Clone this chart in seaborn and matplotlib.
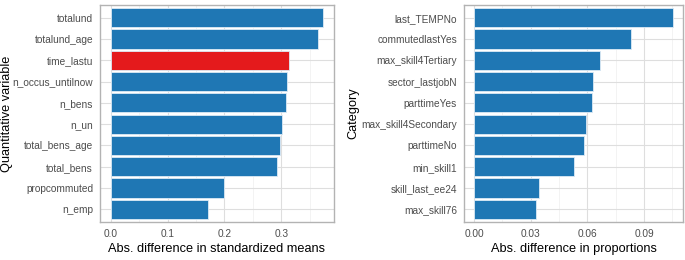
import matplotlib
matplotlib.use("Agg")
import matplotlib.pyplot as plt
import seaborn as sns
import numpy as np
import pandas as pd
from matplotlib.ticker import FixedLocator, FormatStrFormatter

# Data
quant_vars = ["totalund", "totalund_age", "time_lastu", "n_occus_untilnow", "n_bens",
              "n_un", "total_bens_age", "total_bens", "propcommuted", "n_emp"]
quant_vals = [0.374, 0.365, 0.314, 0.310, 0.308, 0.301, 0.298, 0.292, 0.200, 0.172]
highlight = "time_lastu"

cat_vars = ["last_TEMPNo", "commutedlastYes", "max_skill4Tertiary", "sector_lastjobN",
            "parttimeYes", "max_skill4Secondary", "parttimeNo", "min_skill1",
            "skill_last_ee24", "max_skill76"]
cat_vals = [0.1054, 0.0831, 0.0665, 0.0628, 0.0627, 0.0593, 0.0580, 0.0527, 0.0342, 0.0331]

left_ticks = [0.0, 0.1, 0.2, 0.3]
right_ticks = [0.00, 0.03, 0.06, 0.09]

BLUE = "#1F77B4"
RED = "#E41A1C"

sns.set_theme(style="white")
plt.rcParams["font.family"] = ["Liberation Sans", "DejaVu Sans"]

fig = plt.figure(figsize=(6.85, 2.6), dpi=100)
ax1 = fig.add_axes([100/685, 38/260, 234/685, 217/260])
ax2 = fig.add_axes([464/685, 38/260, 219/685, 217/260])


def style(ax, names, vals, colors, ticks, fmt, xlabel, ylabel, ylab_x):
    df = pd.DataFrame({"var": names, "val": vals})
    pal = dict(zip(names, colors))
    sns.barplot(data=df, x="val", y="var", hue="var", palette=pal, legend=False,
                order=names, width=0.9, ax=ax, edgecolor="#DCEAF5", linewidth=0.6,
                saturation=1, zorder=3)
    m = max(vals)
    ax.set_xlim(-0.05 * m, 1.05 * m)
    ax.set_ylim(len(names) - 1 + 0.6, -0.6)
    ax.xaxis.set_major_locator(FixedLocator(ticks))
    step = ticks[1] - ticks[0]
    minors = [t + step / 2 for t in [ticks[0] - step] + ticks]
    ax.xaxis.set_minor_locator(FixedLocator(minors))
    ax.xaxis.set_major_formatter(FormatStrFormatter(fmt))
    ax.grid(True, which="major", color="#DEDEDE", linewidth=0.8, zorder=0)
    ax.grid(True, which="minor", axis="x", color="#EFEFEF", linewidth=0.5, zorder=0)
    ax.set_axisbelow(True)
    for s in ax.spines.values():
        s.set_color("#B3B3B3")
        s.set_linewidth(1.0)
    ax.tick_params(axis="both", which="major", length=3, width=0.8, color="#B3B3B3",
                   labelcolor="#4D4D4D", labelsize=7.3, pad=2)
    ax.tick_params(axis="x", which="minor", length=0)
    ax.set_xlabel(xlabel, fontsize=9.2, color="black", labelpad=3)
    ax.set_ylabel(ylabel, fontsize=9.2, color="black")
    ax.yaxis.set_label_coords(ylab_x, 0.5)
    ax.yaxis.label.set_va("center")


colors1 = [RED if n == highlight else BLUE for n in quant_vars]
style(ax1, quant_vars, quant_vals, colors1, left_ticks, "%.1f",
      "Abs. difference in standardized means", "Quantitative variable", (7 - 100) / 234)
style(ax2, cat_vars, cat_vals, [BLUE] * len(cat_vars), right_ticks, "%.2f",
      "Abs. difference in proportions", "Category", (353.5 - 464) / 219)

fig.savefig("out.png", dpi=100)
